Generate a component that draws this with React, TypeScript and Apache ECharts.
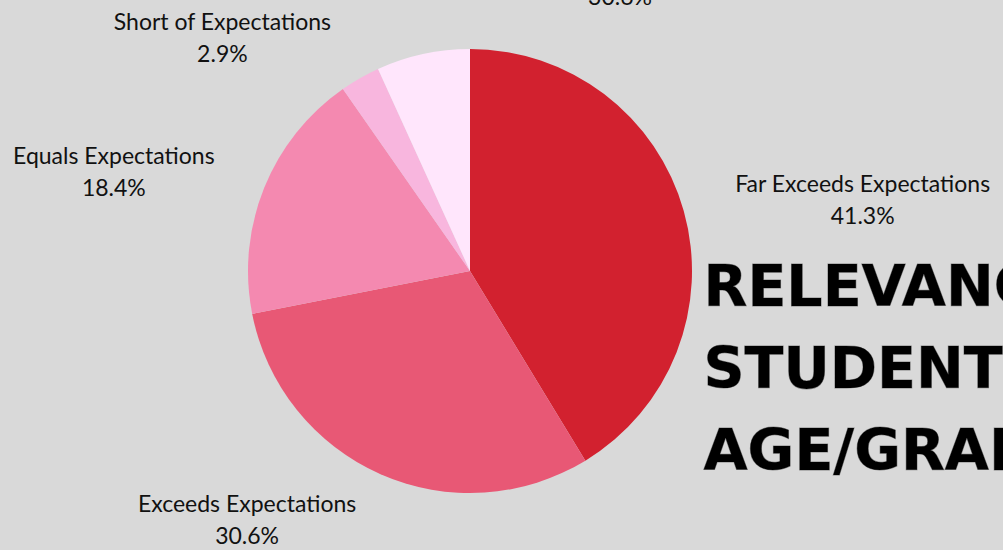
import React, { useEffect, useRef } from "react";
import * as echarts from "echarts";

const categories = [
  "Far Exceeds Expectations",
  "Exceeds Expectations",
  "Equals Expectations",
  "Short of Expectations",
  "",
];
const values = [41.3, 30.6, 18.4, 2.9, 6.8];
const colors = ["#D2212F", "#E85875", "#F489B0", "#F8B6DE", "#FFE6FC"];
const titleLines = ["RELEVANCE TO", "STUDENTS'", "AGE/GRADE"];
const strayLabel = "30.6%";

export default function App() {
  const ref = useRef<HTMLDivElement>(null);
  useEffect(() => {
    document.body.style.margin = "0";
    const chart = echarts.init(ref.current!, null, { renderer: "svg" });
    const font = "Lato, 'Noto Sans', sans-serif";
    chart.setOption({
      animation: false,
      backgroundColor: "#D9D9D9",
      series: [
        {
          type: "pie",
          center: [470, 271],
          radius: 222,
          startAngle: 90,
          clockwise: true,
          avoidLabelOverlap: false,
          data: categories.map((c, i) => ({
            name: c,
            value: values[i],
            itemStyle: { color: colors[i] },
            label: { show: c !== "" },
          })),
          label: {
            position: "outside",
            formatter: (p: any) => `${p.name}\n${p.value.toFixed(1)}%`,
            color: "#111",
            fontFamily: font,
            fontSize: 23,
            lineHeight: 32,
          },
          labelLayout: (p: any) => ({
            x: p.labelRect.x + p.labelRect.width / 2,
            y: p.labelRect.y + p.labelRect.height / 2 + 1,
            align: "center",
            verticalAlign: "middle",
          }),
          labelLine: { show: false, length: 48, length2: 0 },
          emphasis: { disabled: true },
        },
      ],
      graphic: [
        ...titleLines.map((t, i) => ({
          type: "text",
          left: 703,
          top: 257 + i * 82,
          style: {
            text: t,
            fontFamily: "'DejaVu Sans', sans-serif",
            fontWeight: "bold",
            fontSize: 57,
            fill: "#000",
            stroke: "#888",
            lineWidth: 1,
          },
        })),
        {
          type: "text",
          x: 620,
          y: -16,
          style: {
            text: strayLabel,
            fontFamily: font,
            fontSize: 23,
            fill: "#111",
            align: "center",
          },
        },
      ],
    });
    return () => chart.dispose();
  }, []);
  return <div ref={ref} style={{ width: 1003, height: 550 }} />;
}
